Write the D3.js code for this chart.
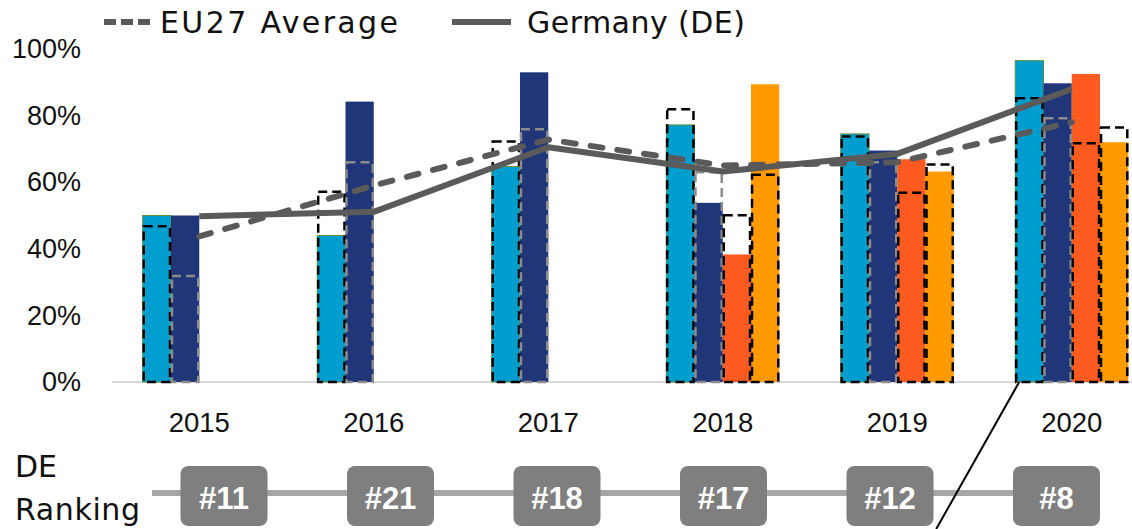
<!DOCTYPE html>
<html>
<head>
<meta charset="utf-8">
<script src="https://cdn.jsdelivr.net/npm/d3@7"></script>
<style>
  body { margin: 0; background: #fff; }
  svg { display: block; }
</style>
</head>
<body>
<script>
// categories
var years = ['2015', '2016', '2017', '2018', '2019', '2020'];

// Germany values per indicator (share, %), null = not measured that year
var deCyan   = [50.0, 44.0, 64.7, 77.2, 74.5, 96.5];
var deNavy   = [50.0, 84.2, 93.0, 53.8, 69.5, 89.7];
var deRed    = [null, null, null, 38.3, 66.9, 92.5];
var deOrange = [null, null, null, 89.4, 63.2, 72.0];

// EU27 values per indicator (drawn as dashed outline boxes)
var euCyan   = [46.8, 57.1, 72.2, 81.9, 73.7, 85.2];
var euNavy   = [31.8, 66.0, 75.9, 63.0, 66.0, 79.2];
var euRed    = [null, null, null, 50.1, 56.8, 71.7];
var euOrange = [null, null, null, 62.2, 65.3, 76.4];

// averages
var euAverage = [43.7, 59.0, 72.8, 65.0, 66.0, 78.0];
var deAverage = [49.8, 51.1, 70.5, 63.2, 68.5, 88.0];

// DE ranking
var ranks = ['#11', '#21', '#18', '#17', '#12', '#8'];

var yTicks = [0, 20, 40, 60, 80, 100];

var config = {
    width: 1132,
    height: 529,
    left: 112,
    right: 1159,
    top: 49,
    bottom: 382,
    slot_colors: ['#009ece', '#203678', '#ff5a1f', '#ff9a00'],
    eu_strokes: ['#000', '#8c8c8c', '#000', '#000'],
    line_color: '#5a5a5a',
    font: '"Liberation Sans", Arial, sans-serif',
    label_font: '"DejaVu Sans", sans-serif'
};

var deSeries = [deCyan, deNavy, deRed, deOrange];
var euSeries = [euCyan, euNavy, euRed, euOrange];

var svg = d3.select('body').append('svg')
    .attr('width', config.width)
    .attr('height', config.height);

var x = d3.scaleBand()
    .domain(years)
    .range([config.left, config.right])
    .paddingInner(0.352)
    .paddingOuter(0.176);

var xSlot = d3.scaleBand()
    .domain([0, 1, 2, 3])
    .range([0, x.bandwidth()]);

var y = d3.scaleLinear()
    .domain([0, 100])
    .range([config.bottom, config.top]);

function barData(series) {
    var out = [];
    series.forEach(function(values, s) {
        values.forEach(function(v, i) {
            if (v != null) out.push({ year: years[i], slot: s, value: v });
        });
    });
    return out;
}

// y axis labels (no line, no ticks)
var yAxis = svg.append('g')
    .attr('transform', 'translate(' + 90 + ',0)')
    .call(d3.axisLeft(y).tickValues(yTicks).tickSize(0).tickPadding(9)
        .tickFormat(function(d) { return d + '%'; }));
yAxis.select('.domain').remove();
yAxis.selectAll('text')
    .attr('font-family', config.font)
    .attr('font-size', 27)
    .attr('fill', '#111');

// x axis
var xAxis = svg.append('g')
    .attr('transform', 'translate(0,' + config.bottom + ')')
    .call(d3.axisBottom(x).tickSize(0).tickPadding(30));
xAxis.select('.domain')
    .attr('stroke', '#d9d9d9')
    .attr('stroke-width', 2)
    .attr('d', 'M' + config.left + ',0H' + config.width);
xAxis.selectAll('text')
    .attr('font-family', config.font)
    .attr('font-size', 27.5)
    .attr('fill', '#111');

// DE bars
svg.append('g').selectAll('rect')
    .data(barData(deSeries))
    .enter().append('rect')
    .attr('x', function(d) { return x(d.year) + xSlot(d.slot); })
    .attr('y', function(d) { return y(d.value); })
    .attr('width', xSlot.bandwidth())
    .attr('height', function(d) { return y(0) - y(d.value); })
    .attr('fill', function(d) { return config.slot_colors[d.slot]; })
    .attr('stroke', function(d) { return d.slot == 0 ? '#5f8f3c' : 'none'; })
    .attr('stroke-width', 1);

// EU boxes, dashed outline only
svg.append('g').selectAll('rect')
    .data(barData(euSeries))
    .enter().append('rect')
    .attr('x', function(d) { return x(d.year) + xSlot(d.slot) + 1; })
    .attr('y', function(d) { return y(d.value); })
    .attr('width', xSlot.bandwidth() - 2)
    .attr('height', function(d) { return y(0) - y(d.value); })
    .attr('fill', 'none')
    .attr('stroke', function(d) { return config.eu_strokes[d.slot]; })
    .attr('stroke-width', 2.5)
    .attr('stroke-dasharray', '9,5');

// average lines
var line = d3.line()
    .x(function(d, i) { return x(years[i]) + x.bandwidth() / 2; })
    .y(function(d) { return y(d); });

svg.append('path')
    .datum(euAverage)
    .attr('d', line)
    .attr('fill', 'none')
    .attr('stroke', config.line_color)
    .attr('stroke-width', 6)
    .attr('stroke-linecap', 'round')
    .attr('stroke-dasharray', '12,15');

svg.append('path')
    .datum(deAverage)
    .attr('d', line)
    .attr('fill', 'none')
    .attr('stroke', config.line_color)
    .attr('stroke-width', 6)
    .attr('stroke-linejoin', 'round');

// legend
var legend = svg.append('g').attr('font-family', config.label_font).attr('font-size', 30).attr('fill', '#111');
legend.append('line')
    .attr('x1', 104).attr('x2', 150).attr('y1', 22).attr('y2', 22)
    .attr('stroke', config.line_color).attr('stroke-width', 6)
    .attr('stroke-dasharray', '12,5');
legend.append('text').attr('x', 160).attr('y', 33)
    .attr('textLength', 238).attr('lengthAdjust', 'spacing')
    .text('EU27 Average');
legend.append('line')
    .attr('x1', 452).attr('x2', 511).attr('y1', 22).attr('y2', 22)
    .attr('stroke', config.line_color).attr('stroke-width', 6);
legend.append('text').attr('x', 527).attr('y', 33)
    .attr('textLength', 218).attr('lengthAdjust', 'spacing')
    .text('Germany (DE)');

// ranking row
var xr = d3.scalePoint()
    .domain(years)
    .range([224, 1056.5]);
var boxW = 87, boxH = 60, rowY = 496;

svg.append('text')
    .attr('x', 15).attr('y', 477)
    .attr('font-family', config.label_font).attr('font-size', 30).attr('fill', '#111')
    .text('DE');
svg.append('text')
    .attr('x', 15).attr('y', 520)
    .attr('font-family', config.label_font).attr('font-size', 30).attr('fill', '#111')
    .attr('textLength', 125).attr('lengthAdjust', 'spacing')
    .text('Ranking');

svg.append('line')
    .attr('x1', 152).attr('x2', xr(years[years.length - 1]))
    .attr('y1', rowY - 3).attr('y2', rowY - 3)
    .attr('stroke', '#a6a6a6').attr('stroke-width', 6);

// annotation stroke from the 2020 group down through the ranking row
var ax = x('2020') + 4;
svg.append('line')
    .attr('x1', ax).attr('y1', y(0))
    .attr('x2', ax - 83).attr('y2', y(0) + 147)
    .attr('stroke', '#000').attr('stroke-width', 2);

var rank = svg.append('g').selectAll('g')
    .data(ranks)
    .enter().append('g')
    .attr('transform', function(d, i) { return 'translate(' + xr(years[i]) + ',' + rowY + ')'; });
rank.append('rect')
    .attr('x', -boxW / 2).attr('y', -boxH / 2)
    .attr('width', boxW).attr('height', boxH)
    .attr('rx', 8)
    .attr('fill', '#7f7f7f');
rank.append('text')
    .attr('text-anchor', 'middle')
    .attr('y', 13)
    .attr('font-family', config.font)
    .attr('font-weight', 'bold')
    .attr('font-size', 31)
    .attr('fill', '#fff')
    .text(function(d) { return d; });
</script>
</body>
</html>
